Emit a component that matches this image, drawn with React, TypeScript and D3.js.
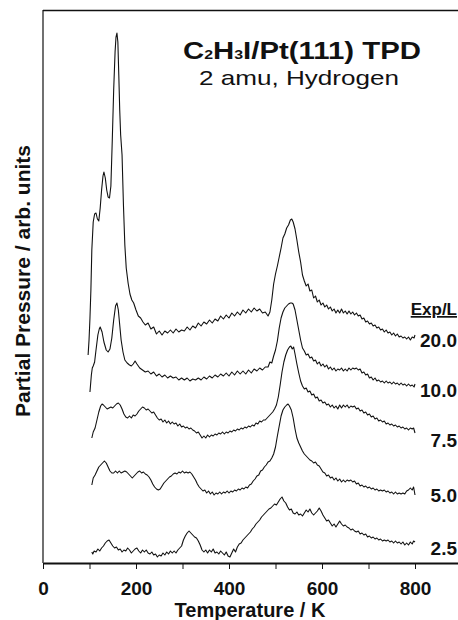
import React, { useEffect, useRef } from 'react';
import * as d3 from 'd3';

// exposure (L) of each trace, top to bottom
const EXPOSURES = ['20.0', '10.0', '7.5', '5.0', '2.5'];
// vertical offset of each trace, arb. units
const OFFSETS = [206, 168, 123, 66, 5];
const X_TICKS = [0, 100, 200, 300, 400, 500, 600, 700, 800];

// [temperature K, partial pressure arb.]
const SERIES_20 = [
  [97, 2], [99, 17], [101, 39], [103, 67], [105, 107], [108, 135], [111, 143], [114, 144], [117, 138], [120, 136],
  [123, 149], [126, 167], [129, 181], [131, 185], [134, 179], [137, 167], [140, 160], [143, 159], [146, 171], [149, 217],
  [152, 267], [155, 305], [157, 320], [159, 324], [161, 315], [163, 282], [165, 247], [167, 222], [170, 202], [173, 152],
  [176, 112], [179, 89], [183, 74], [187, 63], [191, 57], [195, 54], [200, 47], [205, 41], [210, 39], [215, 35],
  [220, 32], [226, 34], [232, 28], [238, 30], [244, 23], [250, 26], [256, 22], [262, 26], [268, 24], [274, 27],
  [280, 24], [286, 28], [292, 25], [298, 27], [304, 26], [310, 30], [316, 27], [322, 31], [328, 29], [334, 34],
  [340, 31], [346, 35], [352, 33], [358, 37], [364, 34], [370, 38], [376, 36], [382, 41], [388, 38], [394, 42],
  [400, 39], [406, 44], [412, 41], [418, 45], [424, 42], [430, 47], [436, 44], [442, 48], [448, 45], [454, 49],
  [460, 46], [466, 48], [472, 44], [478, 45], [484, 41], [488, 45], [492, 57], [496, 73], [500, 83], [504, 91],
  [508, 100], [512, 109], [516, 119], [520, 123], [524, 129], [528, 132], [532, 137], [535, 138], [538, 135], [542, 128],
  [546, 117], [550, 105], [554, 95], [558, 82], [562, 76], [566, 71], [570, 73], [574, 66], [578, 67], [582, 59],
  [586, 61], [590, 55], [594, 57], [598, 52], [602, 54], [606, 50], [610, 52], [614, 48], [618, 50], [622, 46],
  [626, 48], [630, 44], [634, 47], [638, 44], [642, 48], [646, 44], [650, 46], [654, 43], [658, 46], [662, 43],
  [666, 45], [670, 42], [674, 44], [678, 41], [682, 42], [686, 38], [690, 39], [694, 35], [698, 36], [702, 33],
  [706, 34], [710, 31], [714, 32], [718, 29], [722, 30], [726, 27], [730, 28], [734, 25], [738, 27], [742, 24],
  [746, 25], [750, 22], [754, 24], [758, 21], [762, 23], [766, 20], [770, 21], [774, 19], [778, 20], [782, 18],
  [786, 20], [790, 17], [794, 20], [798, 19], [800, 22],
];

const SERIES_10 = [
  [101, 3], [104, 20], [106, 27], [108, 29], [111, 33], [114, 45], [118, 60], [121, 66], [123, 68], [127, 63],
  [131, 53], [136, 45], [140, 43], [144, 46], [148, 57], [152, 75], [156, 89], [159, 92], [162, 85], [165, 70],
  [168, 55], [172, 43], [176, 35], [181, 32], [186, 30], [190, 29], [194, 31], [198, 34], [202, 31], [208, 27],
  [214, 25], [220, 23], [226, 24], [232, 21], [238, 23], [244, 19], [250, 21], [256, 18], [262, 20], [268, 17],
  [274, 19], [280, 17], [286, 18], [292, 15], [298, 17], [304, 15], [310, 17], [316, 14], [322, 16], [328, 15],
  [334, 17], [340, 15], [346, 18], [352, 16], [358, 19], [364, 17], [370, 20], [376, 18], [382, 21], [388, 19],
  [394, 22], [400, 19], [406, 23], [412, 20], [418, 24], [424, 21], [430, 24], [436, 21], [442, 25], [448, 22],
  [454, 26], [460, 24], [466, 27], [472, 25], [478, 28], [484, 28], [488, 33], [492, 32], [496, 39], [500, 45],
  [504, 54], [508, 67], [512, 77], [516, 83], [520, 87], [524, 89], [528, 91], [532, 92], [535, 92], [538, 91],
  [542, 85], [546, 75], [550, 65], [554, 55], [558, 47], [562, 44], [566, 40], [570, 41], [574, 37], [578, 38],
  [582, 34], [586, 35], [590, 31], [594, 33], [598, 29], [602, 31], [606, 28], [610, 30], [614, 26], [618, 28],
  [622, 25], [626, 27], [630, 24], [634, 26], [638, 25], [642, 27], [646, 24], [650, 26], [654, 24], [658, 27],
  [662, 25], [666, 27], [670, 26], [674, 27], [678, 25], [682, 26], [686, 22], [690, 23], [694, 20], [698, 21],
  [702, 17], [706, 18], [710, 15], [714, 17], [718, 14], [722, 15], [726, 13], [730, 14], [734, 12], [738, 14],
  [742, 12], [746, 13], [750, 11], [754, 13], [758, 11], [762, 12], [766, 10], [770, 12], [774, 10], [778, 11],
  [782, 9], [786, 11], [790, 9], [794, 10], [798, 8], [800, 11],
];

const SERIES_75 = [
  [105, 2], [108, 8], [112, 12], [116, 20], [120, 28], [124, 34], [127, 36], [130, 35], [134, 33], [138, 31],
  [142, 32], [146, 33], [150, 32], [154, 34], [158, 36], [162, 37], [166, 35], [170, 31], [174, 26], [178, 23],
  [182, 22], [186, 24], [190, 22], [194, 25], [198, 24], [202, 26], [206, 29], [210, 31], [214, 33], [218, 32],
  [222, 30], [226, 31], [230, 29], [234, 27], [238, 28], [242, 25], [246, 22], [250, 20], [254, 21], [258, 18],
  [262, 20], [266, 17], [270, 19], [274, 16], [278, 18], [282, 16], [286, 17], [290, 14], [294, 16], [298, 13],
  [302, 14], [306, 12], [310, 13], [314, 11], [318, 12], [322, 10], [326, 9], [330, 7], [334, 8], [338, 5],
  [342, 2], [346, 4], [350, 2], [354, 5], [358, 3], [362, 5], [366, 4], [370, 6], [374, 5], [378, 7],
  [382, 6], [386, 8], [390, 6], [394, 8], [398, 7], [402, 9], [406, 8], [410, 10], [414, 9], [418, 11],
  [422, 10], [426, 12], [430, 11], [434, 13], [438, 12], [442, 14], [446, 13], [450, 15], [454, 14], [458, 17],
  [462, 16], [466, 19], [470, 18], [474, 20], [478, 20], [482, 22], [486, 24], [490, 26], [494, 28], [498, 31],
  [502, 35], [506, 43], [510, 55], [514, 68], [518, 78], [522, 85], [526, 90], [530, 93], [533, 94], [536, 91],
  [539, 93], [542, 86], [546, 76], [550, 67], [554, 59], [558, 54], [562, 51], [566, 52], [570, 48], [574, 49],
  [578, 45], [582, 46], [586, 42], [590, 43], [594, 39], [598, 40], [602, 37], [606, 38], [610, 35], [614, 36],
  [618, 33], [622, 35], [626, 32], [630, 34], [634, 31], [638, 35], [642, 32], [646, 35], [650, 33], [654, 35],
  [658, 32], [662, 34], [666, 33], [670, 34], [674, 31], [678, 32], [682, 29], [686, 30], [690, 27], [694, 28],
  [698, 25], [702, 26], [706, 23], [710, 24], [714, 21], [718, 22], [722, 19], [726, 20], [730, 18], [734, 19],
  [738, 16], [742, 17], [746, 15], [750, 16], [754, 14], [758, 15], [762, 13], [766, 14], [770, 12], [774, 13],
  [778, 11], [782, 12], [786, 10], [790, 12], [794, 11], [797, 12], [800, 7],
];

const SERIES_50 = [
  [105, 12], [108, 19], [112, 22], [116, 26], [120, 30], [124, 32], [128, 34], [132, 36], [136, 34], [140, 30],
  [144, 26], [148, 24], [152, 24], [156, 26], [160, 24], [164, 26], [168, 24], [172, 25], [176, 26], [180, 25],
  [184, 23], [188, 21], [192, 19], [196, 21], [200, 23], [204, 25], [208, 26], [212, 24], [216, 25], [220, 23],
  [224, 22], [228, 20], [232, 17], [236, 13], [240, 10], [244, 8], [248, 7], [252, 8], [256, 11], [260, 14],
  [264, 16], [268, 18], [272, 20], [276, 21], [280, 23], [284, 24], [288, 23], [292, 25], [296, 24], [300, 26],
  [304, 24], [308, 25], [312, 24], [316, 25], [320, 23], [324, 20], [328, 17], [332, 13], [336, 10], [340, 8],
  [344, 6], [348, 7], [352, 4], [356, 6], [360, 3], [364, 5], [368, 2], [372, 4], [376, 3], [380, 5],
  [384, 3], [388, 5], [392, 4], [396, 6], [400, 4], [404, 6], [408, 5], [412, 7], [416, 6], [420, 8],
  [424, 7], [428, 9], [432, 8], [436, 10], [440, 9], [444, 12], [448, 13], [452, 16], [456, 18], [460, 21],
  [464, 22], [468, 26], [472, 27], [476, 30], [480, 32], [484, 35], [488, 36], [492, 39], [496, 43], [500, 50],
  [504, 61], [508, 71], [512, 81], [516, 87], [520, 90], [524, 92], [527, 93], [530, 91], [534, 87], [538, 79],
  [542, 68], [546, 59], [550, 54], [554, 50], [558, 46], [562, 43], [566, 41], [570, 39], [574, 37], [578, 36],
  [582, 34], [586, 35], [590, 32], [594, 31], [598, 28], [602, 25], [606, 24], [610, 21], [614, 22], [618, 19],
  [622, 20], [626, 17], [630, 19], [634, 16], [638, 18], [642, 15], [646, 17], [650, 15], [654, 17], [658, 16],
  [662, 17], [666, 15], [670, 16], [674, 13], [678, 14], [682, 11], [686, 12], [690, 10], [694, 11], [698, 9],
  [702, 10], [706, 8], [710, 9], [714, 7], [718, 8], [722, 6], [726, 7], [730, 6], [734, 7], [738, 5],
  [742, 6], [746, 4], [750, 5], [754, 3], [758, 5], [762, 3], [766, 4], [770, 3], [774, 4], [778, 3],
  [782, 6], [786, 7], [790, 9], [794, 7], [797, 10], [800, 2],
];

const SERIES_25 = [
  [105, 6], [107, 4], [110, 7], [114, 6], [118, 9], [122, 7], [126, 10], [130, 12], [134, 15], [138, 17],
  [142, 18], [146, 15], [150, 12], [154, 10], [158, 11], [162, 8], [166, 9], [170, 6], [174, 8], [178, 7],
  [182, 10], [186, 8], [190, 5], [194, 7], [198, 9], [202, 10], [206, 7], [210, 5], [214, 8], [218, 6],
  [222, 8], [226, 5], [230, 4], [234, 6], [238, 3], [242, 4], [246, 1], [250, 3], [254, 2], [258, 5],
  [262, 3], [266, 6], [270, 4], [274, 7], [278, 5], [282, 7], [286, 5], [290, 8], [294, 10], [298, 12],
  [302, 18], [306, 22], [310, 25], [314, 27], [318, 25], [322, 23], [326, 21], [330, 20], [334, 17], [338, 13],
  [342, 8], [346, 6], [350, 8], [354, 5], [358, 8], [362, 6], [366, 9], [370, 5], [374, 6], [378, 4],
  [382, 7], [386, 5], [390, 3], [394, 6], [398, 2], [402, 1], [406, 5], [410, 9], [414, 6], [418, 11],
  [422, 14], [426, 15], [430, 18], [434, 20], [438, 22], [442, 24], [446, 26], [450, 29], [454, 31], [458, 34],
  [462, 36], [466, 38], [470, 41], [474, 43], [478, 45], [482, 47], [486, 49], [490, 50], [494, 52], [498, 54],
  [502, 53], [506, 56], [510, 59], [514, 61], [518, 57], [522, 55], [526, 51], [530, 48], [534, 49], [538, 45],
  [542, 44], [546, 46], [550, 43], [554, 44], [558, 42], [562, 45], [566, 48], [570, 46], [574, 49], [578, 45],
  [582, 43], [586, 45], [590, 47], [594, 50], [598, 47], [602, 43], [606, 40], [610, 37], [614, 38], [618, 35],
  [622, 32], [626, 34], [630, 31], [634, 34], [638, 37], [642, 34], [646, 32], [650, 33], [654, 31], [658, 30],
  [662, 28], [666, 29], [670, 27], [674, 26], [678, 27], [682, 24], [686, 25], [690, 23], [694, 24], [698, 21],
  [702, 22], [706, 20], [710, 21], [714, 19], [718, 20], [722, 18], [726, 19], [730, 17], [734, 18], [738, 17],
  [742, 18], [746, 16], [750, 17], [754, 15], [758, 17], [762, 15], [766, 16], [770, 14], [774, 16], [778, 13],
  [782, 15], [786, 13], [790, 16], [794, 14], [797, 17], [800, 16],
];

const SERIES = [SERIES_20, SERIES_10, SERIES_75, SERIES_50, SERIES_25];

const FONT = "'Liberation Sans', Arial, Helvetica, sans-serif";

const Chart = () => {
  const svgRef = useRef<SVGSVGElement>(null);

  useEffect(() => {
    const WIDTH = 458;
    const HEIGHT = 620;

    const svg = d3.select(svgRef.current).attr('width', WIDTH).attr('height', HEIGHT);
    svg.selectAll('*').remove();

    // temperature axis, 0 K sits on the left frame line
    const x = d3.scaleLinear().domain([0, 900]).range([43, 461.5]);
    // arbitrary pressure units, stacked traces use an offset each
    const y = d3.scaleLinear().domain([0, 553]).range([563, 10]);

    // frame: left and top lines
    svg.append('line')
      .attr('x1', 43).attr('x2', 43).attr('y1', 10).attr('y2', 563)
      .attr('stroke', '#111').attr('stroke-width', 1.2);
    svg.append('line')
      .attr('x1', 43).attr('x2', WIDTH).attr('y1', 10.5).attr('y2', 10.5)
      .attr('stroke', '#111').attr('stroke-width', 1.5);

    // bottom axis
    const axis = svg.append('g')
      .attr('transform', 'translate(0,563)')
      .call(
        d3.axisBottom(x)
          .tickValues(X_TICKS)
          .tickSize(6)
          .tickSizeOuter(0)
          .tickFormat((d) => ((d as number) % 200 === 0 ? String(d) : ''))
      );
    axis.select('.domain').attr('stroke', '#111').attr('stroke-width', 2);
    axis.selectAll('.tick line').attr('stroke', '#111').attr('stroke-width', 1);
    axis.selectAll('.tick text')
      .attr('y', 32).attr('dy', 0)
      .attr('fill', '#111')
      .style('font-family', FONT)
      .style('font-size', '19px')
      .style('font-weight', 'bold');

    // traces
    const line = d3.line()
      .x((d) => x(d[0]))
      .y((d) => y(d[1]));

    SERIES.forEach((s, i) => {
      const off = OFFSETS[i];
      svg.append('path')
        .datum(s.map((p) => [p[0], p[1] + off]))
        .attr('d', line)
        .attr('fill', 'none')
        .attr('stroke', '#111')
        .attr('stroke-width', 1.1)
        .attr('stroke-linejoin', 'round');
    });

    // exposure labels at the right end of each trace
    const labelY = [347, 397, 447, 502, 555];
    EXPOSURES.forEach((e, i) => {
      svg.append('text')
        .attr('x', 457).attr('y', labelY[i])
        .attr('text-anchor', 'end')
        .style('font-family', FONT)
        .style('font-size', '19px')
        .style('font-weight', 'bold')
        .attr('fill', '#111')
        .text(e);
    });
    svg.append('text')
      .attr('x', 457).attr('y', 315)
      .attr('text-anchor', 'end')
      .style('font-family', FONT)
      .style('font-size', '17px')
      .style('font-weight', 'bold')
      .style('text-decoration', 'underline')
      .attr('fill', '#111')
      .text('Exp/L');

    // title
    const title = svg.append('text')
      .attr('x', 302).attr('y', 59)
      .attr('text-anchor', 'middle')
      .attr('textLength', 238)
      .attr('lengthAdjust', 'spacingAndGlyphs')
      .style('font-family', FONT)
      .style('font-size', '24px')
      .style('font-weight', 'bold')
      .attr('fill', '#111');
    title.append('tspan').text('C');
    title.append('tspan').style('font-size', '13px').text('2');
    title.append('tspan').text('H');
    title.append('tspan').style('font-size', '13px').text('3');
    title.append('tspan').text('I/Pt(111) TPD');

    svg.append('text')
      .attr('x', 299).attr('y', 85)
      .attr('text-anchor', 'middle')
      .attr('textLength', 200)
      .attr('lengthAdjust', 'spacingAndGlyphs')
      .style('font-family', FONT)
      .style('font-size', '21px')
      .attr('fill', '#111')
      .text('2 amu, Hydrogen');

    // axis titles
    svg.append('text')
      .attr('x', 250).attr('y', 617)
      .attr('text-anchor', 'middle')
      .style('font-family', FONT)
      .style('font-size', '20px')
      .style('font-weight', 'bold')
      .attr('fill', '#111')
      .text('Temperature / K');

    svg.append('text')
      .attr('transform', 'translate(30,281) rotate(-90)')
      .attr('text-anchor', 'middle')
      .attr('textLength', 272)
      .attr('lengthAdjust', 'spacingAndGlyphs')
      .style('font-family', FONT)
      .style('font-size', '20px')
      .style('font-weight', 'bold')
      .attr('fill', '#111')
      .text('Partial Pressure / arb. units');
  }, []);

  return <svg ref={svgRef} style={{ position: 'absolute', left: 0, top: 0 }}></svg>;
};

export default function App() {
  return <Chart />;
}
